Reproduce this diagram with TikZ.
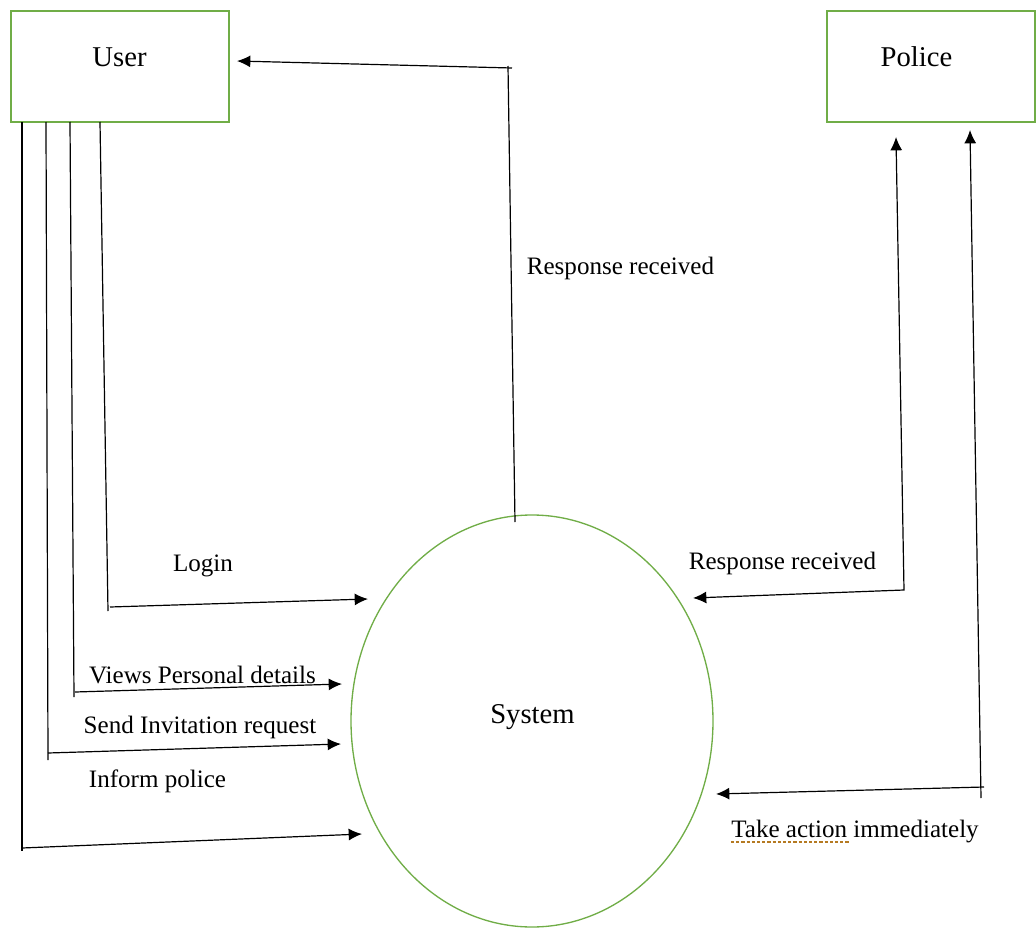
\documentclass[tikz,border=0pt]{standalone}
\usepackage{fontspec}
\setmainfont{Liberation Serif}
\usetikzlibrary{arrows.meta,shapes.geometric}
\definecolor{boxgreen}{HTML}{70AD47}
\definecolor{squiggle}{HTML}{B57A22}
\begin{document}
\begin{tikzpicture}[x=0.75pt,y=-0.75pt,
  entity/.style={draw=boxgreen,line width=1pt,rectangle,inner sep=0pt,minimum height=83.25pt},
  process/.style={draw=boxgreen,line width=1pt,ellipse,inner sep=0pt,minimum width=271.5pt,minimum height=309pt},
  title/.style={anchor=base,inner sep=0pt,font=\fontsize{21.5}{24}\selectfont},
  flowlabel/.style={anchor=base,inner sep=0pt,font=\fontsize{18.8}{22}\selectfont},
  flow/.style={draw=black,line width=0.9pt},
  tip/.style={-{Latex[length=10pt,width=9pt]}},
  bothtips/.style={{Latex[length=10pt,width=9pt]}-{Latex[length=10pt,width=9pt]}}
]
\useasboundingbox (0,0) rectangle (1036,928);

% external entities and the process
\node[entity,minimum width=163.5pt] (user) at (120,66.5) {};
\node[entity,minimum width=156pt] (police) at (931,66.5) {};
\node[process] (system) at (532,721) {};
\node[title] (usertxt) at (119.5,66) {User};
\node[title] (policetxt) at (916.5,66) {Police};
\node[title] (systxt) at (532.5,723) {System};

% user -> system: login
\coordinate (lgA) at (100,122); \coordinate (lgB) at (108,611);
\coordinate (lgC) at (110,607); \coordinate (lgD) at (368,599);
\draw[flow] (lgA) -- (lgB);
\draw[flow,tip] (lgC) -- (lgD);
\node[flowlabel] (login) at (203,571) {Login};

% user -> system: views personal details
\coordinate (vwA) at (70,122); \coordinate (vwB) at (74,697);
\coordinate (vwC) at (75,692); \coordinate (vwD) at (342,684);
\draw[flow] (vwA) -- (vwB);
\draw[flow,tip] (vwC) -- (vwD);
\node[flowlabel] (views) at (202.5,683) {Views Personal details};

% user -> system: send invitation request
\coordinate (snA) at (46,122); \coordinate (snB) at (48,760);
\coordinate (snC) at (48,753); \coordinate (snD) at (341,744);
\draw[flow] (snA) -- (snB);
\draw[flow,tip] (snC) -- (snD);
\node[flowlabel] (send) at (200,733) {Send Invitation request};

% user -> system: inform police
\coordinate (ifA) at (22,122); \coordinate (ifB) at (22,851);
\coordinate (ifC) at (22,848); \coordinate (ifD) at (362,834);
\draw[flow] (ifA) -- (ifB);
\draw[flow,tip] (ifC) -- (ifD);
\node[flowlabel] (inform) at (157.5,787) {Inform police};

% system -> user: response received
\coordinate (rsA) at (515,522); \coordinate (rsB) at (508,66);
\coordinate (rsC) at (512,68); \coordinate (rsD) at (237,61);
\draw[flow] (rsA) -- (rsB);
\draw[flow,tip] (rsC) -- (rsD);
\node[flowlabel] (resp1) at (620.5,274) {Response received};

% police <-> system: response received
\coordinate (prA) at (896,137); \coordinate (prB) at (904,590);
\coordinate (prC) at (693,598);
\draw[flow,bothtips] (prA) -- (prB) -- (prC);
\node[flowlabel] (resp2) at (782.5,569) {Response received};

% police <-> system: take action immediately
\coordinate (taA) at (970,130); \coordinate (taB) at (981,798);
\coordinate (taC) at (984,787); \coordinate (taD) at (716,794);
\draw[flow,tip] (taB) -- (taA);
\draw[flow,tip] (taC) -- (taD);
\node[flowlabel] (take) at (855,837) {Take action immediately};
\draw[squiggle,line width=1.6pt,dash pattern=on 2.4pt off 1.5pt]
  ([yshift=-3.8pt]take.base west) -- ++(118,0);
\end{tikzpicture}
\end{document}
